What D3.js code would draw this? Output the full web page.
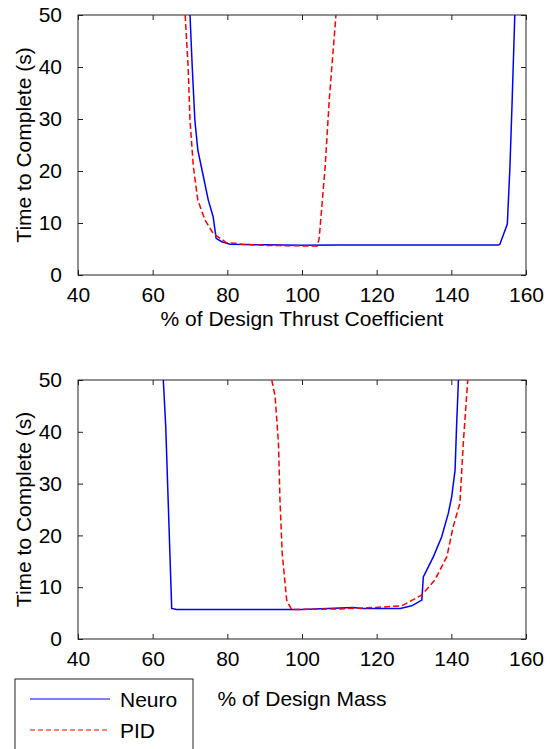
<!DOCTYPE html>
<html>
<head>
<meta charset="utf-8">
<script src="https://cdn.jsdelivr.net/npm/d3@7"></script>
<style>
  html, body { margin: 0; padding: 0; background: #fff; }
  svg { display: block; font-family: "Liberation Sans", Arial, sans-serif; }
</style>
</head>
<body>
<div id="chart"></div>
<script>
// Top panel: % of design thrust coefficient
const thrustNeuroX = [70.0, 70.6, 71.3, 72.1, 73.3, 74.9, 76.2, 77.0, 78.5, 80.7, 90, 100, 110, 130, 152.6, 153.0, 155.0, 155.7, 156.3, 157.0];
const thrustNeuroY = [50, 40, 29.8, 24, 19.9, 14.4, 11.2, 7.05, 6.4, 5.9, 5.8, 5.7, 5.75, 5.75, 5.75, 5.9, 9.8, 20.8, 33.7, 50];
const thrustPidX = [68.7, 69.5, 70.0, 70.9, 72.1, 74.0, 76.2, 79.8, 82.0, 84, 90, 100, 104.1, 104.6, 106.2, 107.3, 109.1];
const thrustPidY = [50, 40, 29.8, 20.8, 14.4, 10.6, 8.0, 6.2, 6.1, 5.9, 5.7, 5.6, 5.6, 7.05, 20.8, 33.7, 50];

// Bottom panel: % of design mass
const massNeuroX = [62.85, 63.5, 65.1, 66.4, 80, 100, 113.7, 116, 126.3, 129.4, 132.1, 132.5, 135.2, 137.4, 139.2, 140.1, 141.0, 141.4, 141.9];
const massNeuroY = [50, 41, 5.9, 5.7, 5.7, 5.7, 6.1, 5.9, 5.9, 6.4, 7.5, 12.0, 15.9, 19.7, 24.3, 27.5, 32.6, 41.0, 50];
const massPidX = [91.9, 92.8, 93.7, 94.1, 94.7, 95.9, 97.2, 110, 119.6, 126.7, 132.1, 135.6, 138.8, 140.5, 142.3, 143.2, 144.4];
const massPidY = [50, 46.8, 37.8, 26.8, 16.5, 7.5, 5.7, 5.8, 6.1, 6.4, 8.5, 11.4, 15.9, 21.7, 26.2, 37.8, 50];

const xTicks = [40, 60, 80, 100, 120, 140, 160];
const yTicks = [0, 10, 20, 30, 40, 50];
const seriesNames = ['Neuro', 'PID'];

const W = 550, H = 749;
const svg = d3.select('#chart').append('svg').attr('width', W).attr('height', H);

const FONT = 21;
const TICK = 5;
const AXIS_COLOR = '#222';

function panel(top, bottom, xTitle, titleY, neuroX, neuroY, pidX, pidY) {
  const x = d3.scaleLinear().domain([40, 160]).range([78, 526]);
  const y = d3.scaleLinear().domain([0, 50]).range([bottom, top]);
  const g = svg.append('g');

  // plot box
  g.append('rect')
    .attr('x', x(40)).attr('y', y(50))
    .attr('width', x(160) - x(40)).attr('height', y(0) - y(50))
    .attr('fill', 'none').attr('stroke', AXIS_COLOR).attr('stroke-width', 1);

  // inward ticks on all sides
  const axB = d3.axisBottom(x).tickValues(xTicks).tickSizeInner(-TICK).tickSizeOuter(0).tickPadding(TICK + 7);
  const axT = d3.axisTop(x).tickValues(xTicks).tickSizeInner(-TICK).tickSizeOuter(0).tickFormat('');
  const axL = d3.axisLeft(y).tickValues(yTicks).tickSizeInner(-TICK).tickSizeOuter(0).tickPadding(TICK + 11);
  const axR = d3.axisRight(y).tickValues(yTicks).tickSizeInner(-TICK).tickSizeOuter(0).tickFormat('');

  [[axB, `translate(0,${bottom})`], [axT, `translate(0,${top})`],
   [axL, `translate(${x(40)},0)`], [axR, `translate(${x(160)},0)`]].forEach(([ax, tr]) => {
    const a = g.append('g').attr('transform', tr).call(ax);
    a.select('.domain').remove();
    a.selectAll('line').attr('stroke', AXIS_COLOR);
    a.selectAll('text').attr('fill', '#000').style('font-size', FONT + 'px')
      .style('font-family', '"Liberation Sans", Arial, sans-serif');
  });

  // axis titles
  g.append('text')
    .attr('x', (x(40) + x(160)) / 2).attr('y', titleY)
    .attr('text-anchor', 'middle').style('font-size', FONT + 'px')
    .text(xTitle);
  g.append('text')
    .attr('transform', `translate(31,${(top + bottom) / 2}) rotate(-90)`)
    .attr('text-anchor', 'middle').style('font-size', FONT + 'px')
    .text('Time to Complete (s)');

  const line = d3.line().x(d => x(d[0])).y(d => y(d[1]));
  g.append('path')
    .datum(neuroX.map((v, i) => [v, neuroY[i]]))
    .attr('d', line).attr('fill', 'none')
    .attr('stroke', '#0000ff').attr('stroke-width', 1.5);
  g.append('path')
    .datum(pidX.map((v, i) => [v, pidY[i]]))
    .attr('d', line).attr('fill', 'none')
    .attr('stroke', '#ff0000').attr('stroke-width', 1.5)
    .attr('stroke-dasharray', '6,3');
}

panel(15, 275, '% of Design Thrust Coefficient', 326, thrustNeuroX, thrustNeuroY, thrustPidX, thrustPidY);
panel(380, 639, '% of Design Mass', 706, massNeuroX, massNeuroY, massPidX, massPidY);

// legend
const leg = svg.append('g');
leg.append('rect')
  .attr('x', 15).attr('y', 679).attr('width', 178).attr('height', 90)
  .attr('fill', '#fff').attr('stroke', AXIS_COLOR).attr('stroke-width', 1);
const legStyles = [
  { color: '#0000ff', dash: null, y: 699 },
  { color: '#ff0000', dash: '5,3', y: 730 },
];
seriesNames.forEach((name, i) => {
  const s = legStyles[i];
  leg.append('line')
    .attr('x1', 30).attr('x2', 110).attr('y1', s.y).attr('y2', s.y)
    .attr('stroke', s.color).attr('stroke-width', 1)
    .attr('stroke-dasharray', s.dash);
  leg.append('text')
    .attr('x', 120).attr('y', s.y + 8)
    .style('font-size', FONT + 'px')
    .text(name);
});
</script>
</body>
</html>
